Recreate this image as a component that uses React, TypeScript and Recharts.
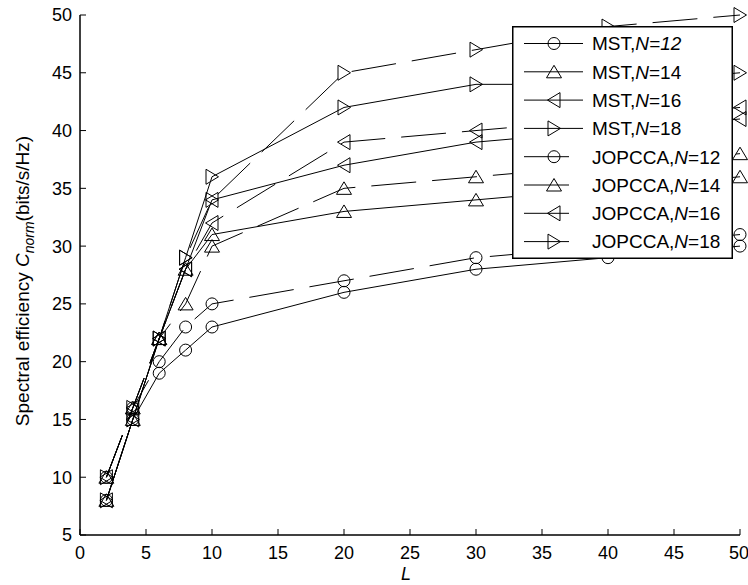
import React from 'react';
import { LineChart, Line, XAxis, YAxis, Legend } from 'recharts';

// L values (x axis)
const L_VALUES = [2, 4, 6, 8, 10, 20, 30, 40, 50];

// spectral efficiency
const MST_12 = [8, 15, 19, 21, 23, 26, 28, 29, 30];
const MST_14 = [8, 15, 22, 28, 31, 33, 34, 35, 36];
const MST_16 = [8, 15, 22, 28, 34, 37, 39, 40, 41];
const MST_18 = [8, 15, 22, 29, 36, 42, 44, 44, 45];
const JOPCCA_12 = [10, 16, 20, 23, 25, 27, 29, 30, 31];
const JOPCCA_14 = [10, 16, 22, 25, 30, 35, 36, 37, 38];
const JOPCCA_16 = [10, 16, 22, 28, 32, 39, 40, 41, 42];
const JOPCCA_18 = [10, 16, 22, 29, 34, 45, 47, 49, 50];

const X_TICKS = [0, 5, 10, 15, 20, 25, 30, 35, 40, 45, 50];
const Y_TICKS = [5, 10, 15, 20, 25, 30, 35, 40, 45, 50];

const SERIES = [
    { key: 'mst12', name: 'MST', n: '12', values: MST_12, marker: 'circle', dashed: false, italicNum: true },
    { key: 'mst14', name: 'MST', n: '14', values: MST_14, marker: 'up', dashed: false },
    { key: 'mst16', name: 'MST', n: '16', values: MST_16, marker: 'left', dashed: false },
    { key: 'mst18', name: 'MST', n: '18', values: MST_18, marker: 'right', dashed: false },
    { key: 'jop12', name: 'JOPCCA', n: '12', values: JOPCCA_12, marker: 'circle', dashed: true },
    { key: 'jop14', name: 'JOPCCA', n: '14', values: JOPCCA_14, marker: 'up', dashed: true },
    { key: 'jop16', name: 'JOPCCA', n: '16', values: JOPCCA_16, marker: 'left', dashed: true },
    { key: 'jop18', name: 'JOPCCA', n: '18', values: JOPCCA_18, marker: 'right', dashed: true },
];

const data = L_VALUES.map((l, i) => {
    const row: any = { L: l };
    SERIES.forEach((s) => { row[s.key] = s.values[i]; });
    return row;
});

const FONT = '"Liberation Sans", Arial, Helvetica, sans-serif';
const DASH = '45 16';

const Marker = ({ cx, cy, type }: any) => {
    if (cx == null || cy == null) return null;
    const common = { fill: 'none', stroke: '#000', strokeWidth: 1 };
    if (type === 'circle') return <circle cx={cx} cy={cy} r={6} {...common} />;
    if (type === 'up') return <polygon points={`${cx},${cy - 6.5} ${cx - 7.5},${cy + 6} ${cx + 7.5},${cy + 6}`} {...common} />;
    if (type === 'left') return <polygon points={`${cx - 6.5},${cy} ${cx + 6},${cy - 7.5} ${cx + 6},${cy + 7.5}`} {...common} />;
    return <polygon points={`${cx + 6.5},${cy} ${cx - 6},${cy - 7.5} ${cx - 6},${cy + 7.5}`} {...common} />;
};

const dotFor = (type: string) => (props: any) => (
    <Marker key={`${type}-${props.index}`} cx={props.cx} cy={props.cy} type={type} />
);

const LegendBox = () => (
    <svg width={221} height={233} style={{ display: 'block' }}>
        <rect x={0.75} y={0.75} width={219.5} height={231.5} fill="#fff" stroke="#000" strokeWidth={1.5} />
        {SERIES.map((s, i) => {
            const y = 17.5 + i * 28.3;
            return (
                <g key={s.key}>
                    <line x1={12} x2={71} y1={y} y2={y} stroke="#000" strokeDasharray={s.dashed ? DASH : undefined} />
                    <Marker cx={42} cy={y} type={s.marker} />
                    <text x={80} y={y} dy="0.36em" fontSize={19} fontFamily={FONT} fill="#000">
                        {s.name},<tspan fontStyle="italic">N</tspan>
                        {s.italicNum ? <tspan fontStyle="italic">={s.n}</tspan> : `=${s.n}`}
                    </text>
                </g>
            );
        })}
    </svg>
);

const YLabel = (props: any) => {
    const vb = props.viewBox || { x: 0, y: 15, width: 80, height: 520 };
    const cx = vb.x + 29;
    const cy = vb.y + vb.height / 2 + 6;
    return (
        <text transform={`translate(${cx},${cy}) rotate(-90)`} textAnchor="middle" fontSize={19} fontFamily={FONT} fill="#000">
            Spectral efficiency <tspan fontStyle="italic">C</tspan>
            <tspan fontStyle="italic" fontSize={14} dy={5}>norm</tspan>
            <tspan dy={-5}>(bits/s/Hz)</tspan>
        </text>
    );
};

const XLabel = (props: any) => {
    const vb = props.viewBox || { x: 80, y: 535, width: 660, height: 50 };
    return (
        <text x={vb.x + vb.width / 2 - 4} y={vb.y + 45} textAnchor="middle" fontSize={18} fontStyle="italic" fontFamily={FONT} fill="#000">
            L
        </text>
    );
};

const tickStyle = { fill: '#000', fontSize: 18, fontFamily: FONT };
const axisLine = { stroke: '#000', strokeWidth: 1.5 };
const tickLine = { stroke: '#000', strokeWidth: 1 };

const App: React.FC = () => {
    return (
        <div style={{ position: 'absolute', left: 0, top: 0, background: '#fff' }}>
            <LineChart width={748} height={585} data={data} margin={{ top: 15, right: 8, bottom: 0, left: 0 }}>
                <XAxis
                    dataKey="L"
                    type="number"
                    domain={[0, 50]}
                    ticks={X_TICKS}
                    height={50}
                    tick={tickStyle}
                    tickSize={-6}
                    tickMargin={17}
                    axisLine={axisLine}
                    tickLine={tickLine}
                    label={{ content: (p: any) => <XLabel {...p} /> }}
                />
                <XAxis
                    xAxisId="top"
                    orientation="top"
                    dataKey="L"
                    type="number"
                    domain={[0, 50]}
                    ticks={X_TICKS}
                    height={0}
                    tickSize={-6}
                    tickFormatter={() => ''}
                    axisLine={axisLine}
                    tickLine={tickLine}
                />
                <YAxis
                    type="number"
                    domain={[5, 50]}
                    ticks={Y_TICKS}
                    width={80}
                    tick={tickStyle}
                    tickSize={-6}
                    tickMargin={14}
                    axisLine={axisLine}
                    tickLine={tickLine}
                    label={{ content: (p: any) => <YLabel {...p} /> }}
                />
                <YAxis
                    yAxisId="right"
                    orientation="right"
                    type="number"
                    domain={[5, 50]}
                    ticks={Y_TICKS}
                    width={0}
                    tickSize={-6}
                    tickFormatter={() => ''}
                    axisLine={axisLine}
                    tickLine={tickLine}
                />
                {SERIES.map((s) => (
                    <Line
                        key={s.key}
                        dataKey={s.key}
                        stroke="#000"
                        strokeWidth={1}
                        strokeDasharray={s.dashed ? DASH : undefined}
                        dot={dotFor(s.marker)}
                        activeDot={false}
                        isAnimationActive={false}
                    />
                ))}
                <Legend
                    layout="vertical"
                    align="center"
                    verticalAlign="middle"
                    wrapperStyle={{ left: 512, top: 26, width: 221, height: 233 }}
                    content={() => <LegendBox />}
                />
            </LineChart>
        </div>
    );
};

export default App;
